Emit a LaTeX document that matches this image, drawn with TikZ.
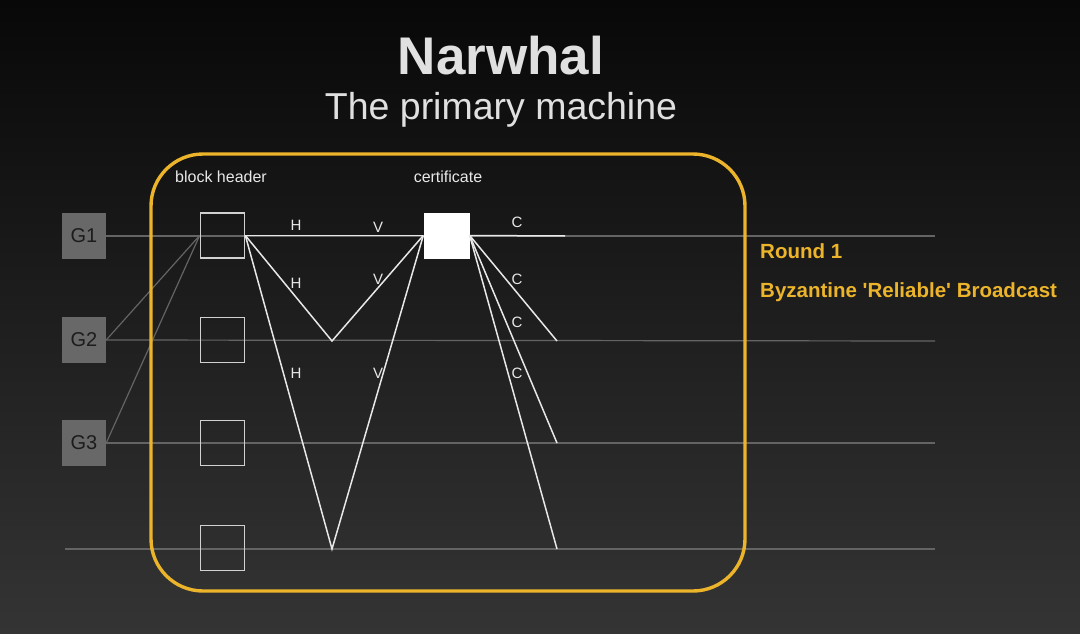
\documentclass[tikz,border=0pt]{standalone}
\usepackage{fontspec}
\setmainfont{Liberation Sans}
\newfontfamily\notefont{Liberation Sans}[Ligatures=TeXOff]
\usetikzlibrary{positioning}

\definecolor{bgtop}{RGB}{8,8,8}
\definecolor{bgbot}{RGB}{52,52,52}
\definecolor{roundyellow}{RGB}{236,180,42}
\definecolor{gfill}{RGB}{104,104,104}
\definecolor{gtext}{RGB}{28,28,28}
\definecolor{rowgray}{RGB}{100,100,100}
\definecolor{msgwhite}{RGB}{232,232,232}

\pgfdeclarelayer{back}
\pgfdeclarelayer{rows}
\pgfsetlayers{back,rows,main}

\tikzset{
  gbox/.style={fill=gfill,minimum width=44pt,minimum height=46pt,inner sep=0pt,
    text=gtext,font=\fontsize{20}{20}\selectfont},
  hbox/.style={draw=msgwhite!90!black,line width=1.7pt,minimum width=44pt,minimum height=45pt,inner sep=0pt},
  certbox/.style={fill=white,minimum width=46pt,minimum height=46pt,inner sep=0pt},
  msg/.style={draw=msgwhite,line width=1.5pt},
  row/.style={draw=rowgray,line width=1.2pt},
  lbl/.style={text=msgwhite,inner sep=0pt,font=\fontsize{15}{15}\selectfont},
  captext/.style={text=msgwhite,inner sep=0pt,anchor=base,font=\fontsize{16}{16}\selectfont},
  note/.style={text=roundyellow,inner sep=0pt,anchor=base west,font=\fontsize{20.5}{20.5}\notefont\bfseries}
}

\begin{document}
\begin{tikzpicture}[x=1pt,y=-1pt]
  \useasboundingbox (0,0) rectangle (1080,634);
  \begin{pgfonlayer}{back}
    \fill[top color=bgtop,bottom color=bgbot] (0,0) rectangle (1080,634);
  \end{pgfonlayer}

  % titles
  \node[text=white!88!black,inner sep=0pt,anchor=base,font=\fontsize{53}{53}\selectfont\bfseries]
    (title) at (501,75) {Narwhal};
  \node[text=white!88!black,inner sep=0pt,anchor=base,font=\fontsize{37.5}{37.5}\selectfont]
    (subtitle) at (501,119) {The primary machine};

  % round frame
  \draw[roundyellow,line width=3.4pt,rounded corners=52pt] (151,154) rectangle (745,591);
  \node[captext,anchor=base west] (bh) at (175,182) {block header};
  \node[captext] (ct) at (448,182) {certificate};

  % validators
  \node[gbox] (G1) at (84,236) {G1};
  \node[gbox] (G2) at (84,340) {G2};
  \node[gbox] (G3) at (84,443) {G3};

  % block headers and certificate
  \node[hbox] (B1) at (222.5,235.5) {};
  \node[hbox] (B2) at (222.5,340) {};
  \node[hbox] (B3) at (222.5,443) {};
  \node[hbox] (B4) at (222.5,548) {};
  \node[certbox] (cert) at (446.5,235.5) {};

  \coordinate (R1) at (935,236);
  \coordinate (R2) at (935,341);
  \coordinate (R3) at (935,443);
  \coordinate (L4) at (65,549);
  \coordinate (R4) at (935,549);
  \coordinate (M2) at (332,341);
  \coordinate (M4) at (332,549);
  \coordinate (E1) at (565,236);
  \coordinate (E2) at (557,341);
  \coordinate (E3) at (557,443);
  \coordinate (E4) at (557,549);

  \begin{pgfonlayer}{rows}
    \path[row]
      (G1.east) edge (R1)
      (G2.east) edge (R2)
      (G3.east) edge (R3)
      (L4) edge (R4)
      (G2.east) edge (B1.west)
      (G3.east) edge (B1.west);
  \end{pgfonlayer}

  % header and votes
  \draw[msg] (B1.east) -- (cert.west);
  \draw[msg] (B1.east) -- (M2) -- (cert.west);
  \draw[msg] (B1.east) -- (M4) -- (cert.west);
  % certificate out
  \path[msg]
    (cert.east) edge (E1)
    (cert.east) edge (E2)
    (cert.east) edge (E3)
    (cert.east) edge (E4);

  \node[lbl] (h1) at (296,225) {H};
  \node[lbl] (h2) at (296,283) {H};
  \node[lbl] (h3) at (296,373) {H};
  \node[lbl] (v1) at (378,227) {V};
  \node[lbl] (v2) at (378,279) {V};
  \node[lbl] (v3) at (378,373) {V};
  \node[lbl] (c1) at (517,222) {C};
  \node[lbl] (c2) at (517,279) {C};
  \node[lbl] (c3) at (517,322) {C};
  \node[lbl] (c4) at (517,373) {C};

  \node[note] (round) at (760,258) {Round 1};
  \node[note] (rbc) at (760,297) {Byzantine 'Reliable' Broadcast};
\end{tikzpicture}
\end{document}
